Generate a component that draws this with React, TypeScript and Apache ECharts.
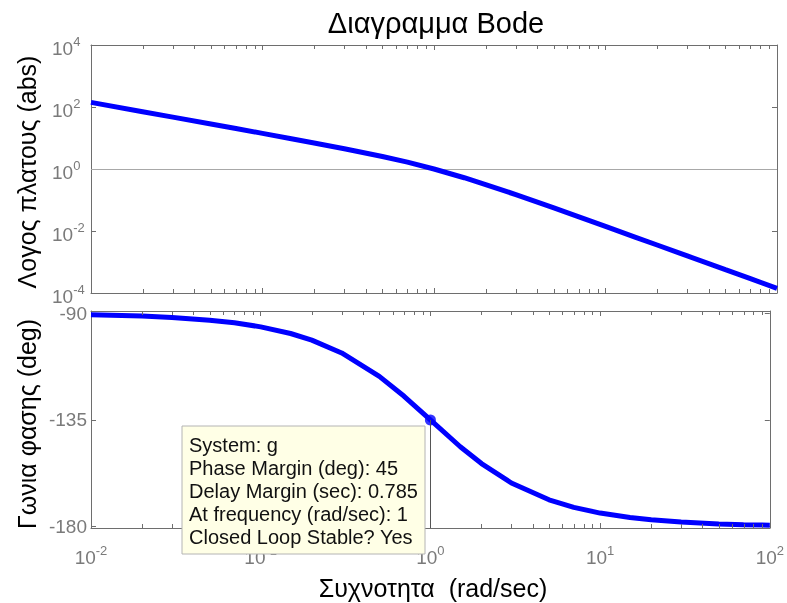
import React, { useEffect, useRef } from "react";
import * as echarts from "echarts";

const freq = [0.01, 0.02, 0.03, 0.05, 0.07, 0.1, 0.15, 0.2, 0.3, 0.5, 0.7, 1, 1.5, 2, 3, 5, 7, 10, 15, 20, 30, 50, 70, 100];
const magnitude = [141, 70.7, 47.1, 28.3, 20.2, 14.1, 9.32, 6.93, 4.52, 2.53, 1.66, 1.0, 0.523, 0.316, 0.149, 0.0555, 0.0286, 0.0141, 0.00627, 0.00353, 0.00157, 0.000565, 0.000289, 0.000141];
const phase = [-90.6, -91.1, -91.7, -92.9, -94.0, -95.7, -98.5, -101.3, -106.7, -116.6, -125.0, -135, -146.3, -153.4, -161.6, -168.7, -171.9, -174.3, -176.2, -177.1, -178.1, -178.9, -179.2, -179.4];
const minorTicks = [0.02, 0.03, 0.04, 0.05, 0.06, 0.07, 0.08, 0.09, 0.2, 0.3, 0.4, 0.5, 0.6, 0.7, 0.8, 0.9, 2, 3, 4, 5, 6, 7, 8, 9, 20, 30, 40, 50, 60, 70, 80, 90];
const phaseTicks = [-180, -135, -90];
const marginPoint = [1, -135];
const titleText = "Διαγραμμα Bode";
const magName = "Λογος πλατους (abs)";
const phaseName = "Γωνια φασης (deg)";
const freqName = "Συχνοτητα  (rad/sec)";
const tipLines = [
  "System: g",
  "Phase Margin (deg): 45",
  "Delay Margin (sec): 0.785",
  "At frequency (rad/sec): 1",
  "Closed Loop Stable? Yes",
];

const FONT = "'Liberation Sans', Arial, sans-serif";
const GRAY = "#7a7a7a";
const AXIS = "#6e6e6e";

const powRich = {
  b: { fontSize: 19, lineHeight: 20, padding: [6, 0, 0, 0], color: GRAY, fontFamily: FONT },
  s: { fontSize: 13, lineHeight: 10, verticalAlign: "top", color: GRAY, fontFamily: FONT },
};
const powFmt = (v: number) => {
  const e = Math.round(Math.log10(v));
  return `{b|10}{s|${e}}`;
};

export default function App() {
  const ref = useRef<HTMLDivElement>(null);
  useEffect(() => {
    if (!ref.current) return;
    const chart = echarts.init(ref.current, null, { renderer: "svg" });
    const xBase = (gridIndex: number, position: string, showLabel: boolean) => ({
      type: "log",
      gridIndex,
      position,
      min: 0.01,
      max: 100,
      logBase: 10,
      interval: 1,
      axisLine: { show: true, lineStyle: { color: AXIS, width: 1 } },
      axisTick: { show: true, inside: true, length: 5, lineStyle: { color: AXIS } },
      axisLabel: {
        show: showLabel,
        formatter: powFmt,
        rich: powRich,
        margin: 16,
        showMinLabel: true,
        showMaxLabel: true,
      },
      splitLine: { show: false },
    });
    const minorSeries = (idx: number, yRef: number) => ({
      type: "custom",
      xAxisIndex: idx,
      yAxisIndex: idx,
      silent: true,
      clip: false,
      z: 5,
      data: minorTicks.map((v) => [v, yRef]),
      renderItem: (params: any, api: any) => {
        const cs = params.coordSys;
        const x = Math.round(api.coord([api.value(0), yRef])[0]) + 0.5;
        const st = { stroke: AXIS, lineWidth: 1 };
        return {
          type: "group",
          children: [
            { type: "line", shape: { x1: x, y1: cs.y + cs.height, x2: x, y2: cs.y + cs.height - 4 }, style: st },
            { type: "line", shape: { x1: x, y1: cs.y, x2: x, y2: cs.y + 4 }, style: st },
          ],
        };
      },
    });
    const option: any = {
      animation: false,
      title: {
        text: titleText,
        left: 431,
        top: 3,
        textAlign: "center",
        textStyle: { fontSize: 29, fontWeight: "normal", color: "#000", fontFamily: FONT },
      },
      grid: [
        { left: 91, top: 45, width: 686, height: 248 },
        { left: 91, top: 311, width: 686, height: 217 },
      ],
      xAxis: [
        xBase(0, "bottom", false),
        xBase(1, "bottom", true),
        xBase(0, "top", false),
        xBase(1, "top", false),
      ],
      yAxis: [
        {
          type: "log",
          gridIndex: 0,
          position: "left",
          min: 0.0001,
          max: 10000,
          logBase: 10,
          interval: 2,
          axisLine: { show: true, lineStyle: { color: AXIS } },
          axisTick: { show: true, inside: true, length: 5, lineStyle: { color: AXIS } },
          axisLabel: {
            formatter: powFmt,
            rich: powRich,
            align: "left",
            margin: 39,
            showMinLabel: true,
            showMaxLabel: true,
          },
          splitLine: { show: false },
        },
        {
          type: "value",
          gridIndex: 1,
          position: "left",
          min: -180.6,
          max: -89.0,
          axisLine: { show: true, lineStyle: { color: AXIS } },
          axisTick: { show: true, inside: true, length: 5, customValues: phaseTicks, lineStyle: { color: AXIS } },
          axisLabel: { customValues: phaseTicks, fontSize: 19, color: GRAY, fontFamily: FONT, margin: 4 },
          splitLine: { show: false },
        },
        {
          type: "log",
          gridIndex: 0,
          position: "right",
          min: 0.0001,
          max: 10000,
          logBase: 10,
          interval: 2,
          axisLine: { show: true, lineStyle: { color: AXIS } },
          axisTick: { show: true, inside: true, length: 5, lineStyle: { color: AXIS } },
          axisLabel: { show: false },
          splitLine: { show: false },
        },
        {
          type: "value",
          gridIndex: 1,
          position: "right",
          min: -180.6,
          max: -89.0,
          axisLine: { show: true, lineStyle: { color: AXIS } },
          axisTick: { show: true, inside: true, length: 5, customValues: phaseTicks, lineStyle: { color: AXIS } },
          axisLabel: { show: false },
          splitLine: { show: false },
        },
      ],
      series: [
        minorSeries(0, 1),
        minorSeries(1, -135),
        {
          type: "line",
          xAxisIndex: 0,
          yAxisIndex: 0,
          data: freq.map((f, i) => [f, magnitude[i]]),
          showSymbol: false,
          symbol: "none",
          lineStyle: { color: "#0000ff", width: 5 },
          z: 3,
          markLine: {
            silent: true,
            symbol: "none",
            label: { show: false },
            lineStyle: { color: "#a8a8a8", width: 1, type: "solid" },
            data: [{ yAxis: 1 }],
            z: 1,
          },
        },
        {
          type: "line",
          xAxisIndex: 1,
          yAxisIndex: 1,
          data: freq.map((f, i) => [f, phase[i]]),
          showSymbol: false,
          symbol: "none",
          lineStyle: { color: "#0000ff", width: 5 },
          z: 3,
          markLine: {
            silent: true,
            symbol: "none",
            label: { show: false },
            lineStyle: { color: "#555", width: 1, type: "solid" },
            data: [[{ coord: [marginPoint[0], marginPoint[1]] }, { coord: [marginPoint[0], -180.6] }]],
          },
        },
        {
          type: "scatter",
          xAxisIndex: 1,
          yAxisIndex: 1,
          data: [marginPoint],
          symbolSize: 11,
          itemStyle: { color: "#0000ff" },
          z: 4,
        },
      ],
      graphic: [
        {
          type: "text",
          style: {
            text: magName,
            font: `25px ${FONT}`,
            fill: "#000",
            align: "center",
            verticalAlign: "middle",
          },
          position: [27, 172],
          rotation: Math.PI / 2,
        },
        {
          type: "text",
          style: {
            text: phaseName,
            font: `25px ${FONT}`,
            fill: "#000",
            align: "center",
            verticalAlign: "middle",
          },
          position: [27, 424],
          rotation: Math.PI / 2,
        },
        {
          type: "text",
          style: {
            text: freqName,
            font: `25px ${FONT}`,
            fill: "#000",
            align: "center",
            verticalAlign: "middle",
          },
          position: [433, 588],
        },
        {
          type: "group",
          z: 100,
          children: [
            {
              type: "rect",
              shape: { x: 182, y: 426, width: 243, height: 128 },
              style: { fill: "#ffffe6", stroke: "#b4b4b4", lineWidth: 1 },
              z: 100,
            },
            {
              type: "text",
              x: 189,
              y: 433,
              z: 101,
              style: {
                text: tipLines.join("\n"),
                font: `20px ${FONT}`,
                lineHeight: 23,
                fill: "#111",
                align: "left",
                verticalAlign: "top",
              },
            },
          ],
        },
      ],
    };
    chart.setOption(option);
    return () => chart.dispose();
  }, []);
  return <div ref={ref} style={{ position: "fixed", left: 0, top: 0, width: 787, height: 603 }} />;
}
